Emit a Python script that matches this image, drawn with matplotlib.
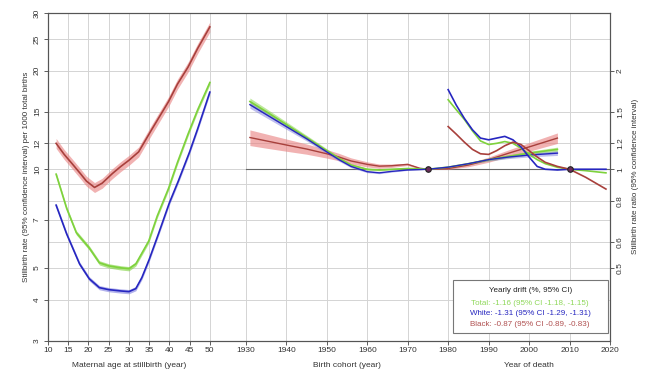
import matplotlib
matplotlib.use("Agg")
import matplotlib.pyplot as plt
from matplotlib.patches import Rectangle
import numpy as np

plt.rcParams['font.family'] = ['Liberation Sans', 'DejaVu Sans']

# ---- data ----
# maternal age effect, stillbirth rate per 1000
age_total = [12, 14.6, 17, 20.2, 22.7, 25, 28, 30, 31.7, 34.9, 37, 39.8, 42, 44.6, 47, 50]
rate_total = [9.66, 7.6, 6.4, 5.75, 5.18, 5.07, 5.0, 4.97, 5.14, 6.04, 7.2, 8.75, 10.5, 12.8, 15.2, 18.4]
age_white = [12, 14.6, 17.8, 20.2, 22.7, 25, 28, 30, 31.7, 33.2, 35, 37.3, 40, 42.2, 45, 47, 50]
rate_white = [7.77, 6.35, 5.14, 4.63, 4.35, 4.29, 4.25, 4.23, 4.32, 4.67, 5.3, 6.35, 7.9, 9.2, 11.3, 13.3, 17.2]
age_black = [12, 14, 16.1, 18, 19.5, 21.5, 23.4, 25.9, 28, 30, 32.4, 35.6, 39.8, 42, 44.6, 47, 50]
rate_black = [12.0, 11.1, 10.35, 9.7, 9.2, 8.8, 9.07, 9.7, 10.2, 10.65, 11.3, 13.2, 16.1, 18.2, 20.5, 23.4, 27.2]

# birth cohort effect, rate ratio (ref 1975)
cohort = [1931, 1935, 1940, 1945, 1950, 1953, 1956, 1960, 1963, 1966, 1970, 1973, 1975]
coh_total = [1.61, 1.50, 1.37, 1.25, 1.14, 1.08, 1.03, 1.0, 0.995, 1.0, 1.005, 1.003, 1.0]
coh_white = [1.575, 1.47, 1.35, 1.24, 1.13, 1.07, 1.02, 0.983, 0.975, 0.985, 0.995, 0.998, 1.0]
coh_black = [1.25, 1.221, 1.186, 1.153, 1.115, 1.09, 1.06, 1.035, 1.022, 1.025, 1.035, 1.007, 1.0]
coh_ci_black = [0.055, 0.05, 0.043, 0.036, 0.03, 0.026, 0.022, 0.018, 0.015, 0.012, 0.008, 0.004, 0.0]
coh_ci_tw = [0.025, 0.022, 0.019, 0.016, 0.013, 0.011, 0.009, 0.007, 0.006, 0.005, 0.003, 0.002, 0.0]

# period effect, rate ratio (ref 2010)
period = [1980, 1982, 1984, 1986, 1988, 1990, 1992, 1994, 1996, 1998, 2000, 2002, 2004, 2007, 2010, 2014, 2019]
per_total = [1.63, 1.52, 1.42, 1.31, 1.22, 1.19, 1.2, 1.215, 1.2, 1.16, 1.11, 1.07, 1.04, 1.014, 1.0, 0.99, 0.975]
per_white = [1.75, 1.57, 1.43, 1.32, 1.245, 1.23, 1.245, 1.26, 1.23, 1.17, 1.09, 1.02, 1.0, 0.995, 1.0, 1.0, 1.0]
per_black = [1.35, 1.28, 1.21, 1.15, 1.115, 1.11, 1.14, 1.18, 1.21, 1.19, 1.14, 1.09, 1.05, 1.02, 1.0, 0.945, 0.87]

# yearly drift lines
drift_x = [1975, 1980, 1985, 1990, 1995, 2000, 2007]
drift_total = [1.0, 1.015, 1.04, 1.07, 1.095, 1.12, 1.15]
drift_white = [1.0, 1.015, 1.04, 1.07, 1.09, 1.105, 1.12]
drift_black = [1.0, 1.005, 1.03, 1.07, 1.12, 1.17, 1.245]
drift_ci_black = [0.0, 0.006, 0.012, 0.018, 0.024, 0.03, 0.037]
drift_ci_tw = [0.0, 0.003, 0.006, 0.009, 0.011, 0.013, 0.016]

age_ticks = [10, 15, 20, 25, 30, 35, 40, 45, 50]
year_ticks = [1930, 1940, 1950, 1960, 1970, 1980, 1990, 2000, 2010, 2020]
rate_ticks = [3, 4, 5, 7, 10, 12, 15, 20, 25, 30]
rate_grid = [4, 5, 6, 7, 8, 9, 10, 12, 15, 20, 25]
ratio_ticks = [0.5, 0.6, 0.8, 1, 1.2, 1.5, 2]

legend_lines = ["Total: -1.16 (95% CI -1.18, -1.15)",
                "White: -1.31 (95% CI -1.29, -1.31)",
                "Black: -0.87 (95% CI -0.89, -0.83)"]

GREEN = '#7ed23c'
BLUE = '#2626c0'
RED = '#a8403c'
RED_BAND = '#e88080'

# calendar years share one axis with age, shifted to the right
OFFSET = 1871.1


def yr(v):
    return np.asarray(v, dtype=float) - OFFSET


fig = plt.figure(figsize=(6.53, 3.70), dpi=100)
ax = fig.add_axes([48 / 653, 29.5 / 370, 562 / 653, 327.5 / 370])
ax.set_yscale('log')
ax.set_xlim(10, 2020 - OFFSET)
ax.set_ylim(3, 30)
ax2 = ax.twinx()
ax2.set_yscale('log')
ax2.set_ylim(0.3, 3)

# grid
for r in rate_grid:
    ax.axhline(r, color='#d4d4d4', lw=0.7, zorder=0)
for a in age_ticks[1:]:
    ax.axvline(a, color='#d4d4d4', lw=0.7, zorder=0)
for y in year_ticks[:-1]:
    ax.axvline(yr(y), color='#d4d4d4', lw=0.7, zorder=0)

# reference line
ax2.plot([yr(1930), yr(2020)], [1, 1], color='#666666', lw=0.8, zorder=1)


def band(axis, x, y, ci, color, alpha):
    y = np.asarray(y)
    ci = np.asarray(ci)
    axis.fill_between(x, y * (1 - ci), y * (1 + ci), color=color, alpha=alpha, lw=0, zorder=2)


# age curves with bands
for xs, ys, c, w, bc in [(age_total, rate_total, GREEN, 0.015, GREEN),
                         (age_white, rate_white, BLUE, 0.015, '#8080e0'),
                         (age_black, rate_black, RED, 0.035, RED_BAND)]:
    band(ax, xs, ys, [w] * len(xs), bc, 0.6)
    ax.plot(xs, ys, color=c, lw=1.2, zorder=3)

# cohort
band(ax2, yr(cohort), coh_black, coh_ci_black, RED_BAND, 0.6)
band(ax2, yr(cohort), coh_total, coh_ci_tw, GREEN, 0.5)
band(ax2, yr(cohort), coh_white, coh_ci_tw, '#8080e0', 0.5)
ax2.plot(yr(cohort), coh_black, color=RED, lw=1.0, zorder=3)
ax2.plot(yr(cohort), coh_total, color=GREEN, lw=1.2, zorder=3)
ax2.plot(yr(cohort), coh_white, color=BLUE, lw=1.0, zorder=3)

# drift
band(ax2, yr(drift_x), drift_black, drift_ci_black, RED_BAND, 0.6)
band(ax2, yr(drift_x), drift_total, drift_ci_tw, GREEN, 0.5)
band(ax2, yr(drift_x), drift_white, drift_ci_tw, '#8080e0', 0.5)
ax2.plot(yr(drift_x), drift_black, color=RED, lw=1.0, zorder=3)
ax2.plot(yr(drift_x), drift_total, color=GREEN, lw=1.2, zorder=3)
ax2.plot(yr(drift_x), drift_white, color=BLUE, lw=1.0, zorder=3)

# period
ax2.plot(yr(period), per_total, color=GREEN, lw=1.2, zorder=3)
ax2.plot(yr(period), per_white, color=BLUE, lw=1.2, zorder=3)
ax2.plot(yr(period), per_black, color=RED, lw=1.2, zorder=3)

# reference points
ax2.plot(yr([1975, 2010]), [1, 1], 'o', ms=4, mfc='#6a2c5a', mec='#222222', mew=0.8, zorder=5)

# ticks
xt = list(age_ticks) + list(yr(year_ticks))
xl = [str(a) for a in age_ticks] + [str(y) for y in year_ticks]
ax.set_xticks(xt)
ax.set_xticklabels(xl)
ax.set_yticks(rate_ticks)
ax.set_yticklabels([str(r) for r in rate_ticks], rotation=90, va='center')
ax.yaxis.set_minor_locator(matplotlib.ticker.NullLocator())
ax2.set_yticks(ratio_ticks)
ax2.set_yticklabels([('%g' % r) for r in ratio_ticks], rotation=90, va='center')
ax2.yaxis.set_minor_locator(matplotlib.ticker.NullLocator())
for a in (ax, ax2):
    a.tick_params(labelsize=6, length=3, width=0.6, color='#444444', labelcolor='#333333', pad=2)
    for s in a.spines.values():
        s.set_color('#555555')
        s.set_linewidth(0.8)

ax.set_ylabel('Stillbirth rate (95% confidence interval) per 1000 total births', fontsize=5.8, color='#333333', labelpad=3)
ax2.set_ylabel('Stillbirth rate ratio (95% confidence interval)', fontsize=5.8, color='#333333', labelpad=6)

tr = ax.get_xaxis_transform()
ax.text(30, -0.065, 'Maternal age at stillbirth (year)', transform=tr, ha='center', va='top', fontsize=6, color='#333333')
ax.text(yr(1955), -0.065, 'Birth cohort (year)', transform=tr, ha='center', va='top', fontsize=6, color='#333333')
ax.text(yr(2000), -0.065, 'Year of death', transform=tr, ha='center', va='top', fontsize=6, color='#333333')

# drift legend box
ax2.add_patch(Rectangle((0.7206, 0.023), 0.275, 0.162, transform=ax2.transAxes, fill=True,
                        fc='white', ec='#777777', lw=0.8, zorder=6))
ax2.text(0.858, 0.154, 'Yearly drift (%, 95% CI)', transform=ax2.transAxes, ha='center', va='center',
         fontsize=5.8, color='#222222', zorder=7)
for txt, yy, c in zip(legend_lines, [0.1145, 0.081, 0.049], ['#8fd85a', BLUE, '#b05050']):
    ax2.text(0.858, yy, txt, transform=ax2.transAxes, ha='center', va='center', fontsize=5.8, color=c, zorder=7)

fig.savefig('out.png', dpi=100)
